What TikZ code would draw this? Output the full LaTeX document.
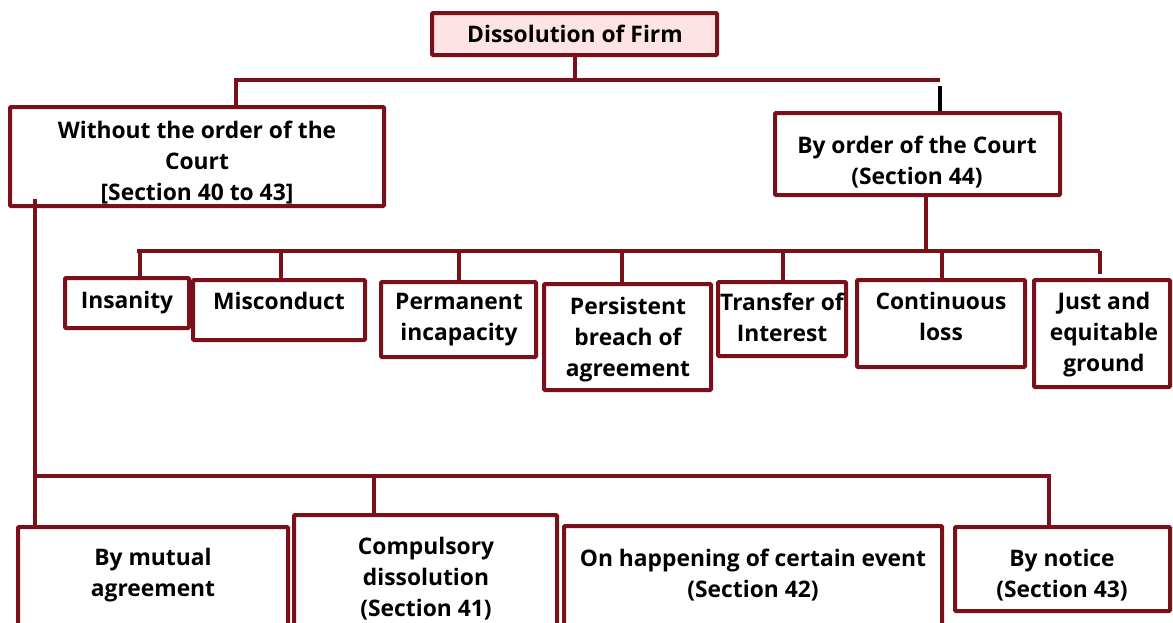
\documentclass[tikz,border=0pt]{standalone}
\usepackage{fontspec}
\setmainfont{Open Sans}
\definecolor{mar}{HTML}{7A1019}
\definecolor{pinkf}{HTML}{FDE3E4}
\tikzset{
  box/.style={draw=mar, line width=4pt, rounded corners=1pt, inner sep=0pt, fill=white},
  lbl/.style={align=center, font=\bfseries\fontsize{22.8}{31}\selectfont, inner sep=0pt, text=black},
  conn/.style={draw=mar, line width=4pt},
}
\begin{document}
\begin{tikzpicture}[x=1pt,y=-1pt]
\useasboundingbox (0,0) rectangle (1173,622);
\clip (0,0) rectangle (1173,622);
% boxes
\node[box, fill=pinkf, minimum width=285pt, minimum height=42pt] (title) at (574.5,34) {};
\node[box, minimum width=374pt, minimum height=99pt] (left) at (197,156.5) {};
\node[box, minimum width=285pt, minimum height=82pt] (right) at (917.5,154) {};
\node[box, minimum width=124pt, minimum height=50pt] (ins) at (127,303) {};
\node[box, minimum width=172pt, minimum height=60pt] (mis) at (279,310) {};
\node[box, minimum width=155pt, minimum height=75pt] (perm) at (458.5,319.5) {};
\node[box, minimum width=167pt, minimum height=106pt] (pers) at (627.5,337) {};
\node[box, minimum width=128pt, minimum height=74pt] (trans) at (782,319) {};
\node[box, minimum width=168pt, minimum height=87pt] (cont) at (941,323.5) {};
\node[box, minimum width=136pt, minimum height=107pt] (just) at (1102,333.5) {};
\node[box, minimum width=270pt, minimum height=133pt] (mut) at (153,593.5) {};
\node[box, minimum width=263pt, minimum height=145pt] (comp) at (425.5,587.5) {};
\node[box, minimum width=378pt, minimum height=134pt] (hap) at (753,593) {};
\node[box, minimum width=215pt, minimum height=84pt] (notc) at (1062.5,569) {};
% junction coordinates
\coordinate (tL) at (236,80);
\coordinate (tR) at (940,80);
\coordinate (mL) at (137,251);
\coordinate (mR) at (1100,251);
\coordinate (rD) at (926,251);
\coordinate (bL) at (35,476);
\coordinate (bR) at (1049,476);
% top level connectors
\draw[conn] (title.south) -- (title.south |- tL);
\draw[conn] (tL |- left.north) -- (tL) -- (tR);
\draw[black, line width=4pt] ([yshift=-6pt]tR) -- (tR |- right.north);
% court branch
\draw[conn] (rD |- right.south) -- (rD);
\draw[conn] (mL) -- (mR);
\draw[conn] ([xshift=13pt]ins.north) -- ([xshift=13pt]ins.north |- mL);
\draw[conn] ([xshift=2pt]mis.north) -- ([xshift=2pt]mis.north |- mL);
\draw[conn] (perm.north) -- (perm.north |- mL);
\draw[conn] ([xshift=-5.5pt]pers.north) -- ([xshift=-5.5pt]pers.north |- mL);
\draw[conn] ([xshift=1pt]trans.north) -- ([xshift=1pt]trans.north |- mL);
\draw[conn] ([xshift=1pt]cont.north) -- ([xshift=1pt]cont.north |- mL);
\draw[conn] ([xshift=-2pt,yshift=4pt]just.north) -- ([xshift=-2pt]just.north |- mR);
% without court branch
\draw[conn] ([yshift=9pt]bL |- left.south) -- (bL |- mut.north);
\draw[conn] (bL) -- (bR) -- (bR |- notc.north);
\draw[conn] ([xshift=-51.5pt]comp.north) -- ([xshift=-51.5pt]comp.north |- bL);
% labels
\node[lbl] (t0) at (575,34) {Dissolution of Firm};
\node[lbl] (t1) at (197,163) {Without the order of the\\Court\\{}[Section 40 to 43]};
\node[lbl] (t2) at (917,162) {By order of the Court\\(Section 44)};
\node[lbl] (t3) at (127,303) {Insanity};
\node[lbl] (t4) at (279,301) {Misconduct};
\node[lbl] (t5) at (459,320) {Permanent\\incapacity};
\node[lbl] (t6) at (628,340) {Persistent\\breach of\\agreement};
\node[lbl] (t7) at (782,317) {Transfer of\\Interest};
\node[lbl] (t8) at (941,316) {Continuous\\loss};
\node[lbl] (t9) at (1104,334.5) {Just and\\equitable\\ground};
\node[lbl] (t10) at (153,575) {By mutual\\agreement};
\node[lbl] (t11) at (426,578.5) {Compulsory\\dissolution\\(Section 41)};
\node[lbl] (t12) at (753,575) {On happening of certain event\\(Section 42)};
\node[lbl] (t13) at (1062,575) {By notice\\(Section 43)};
\end{tikzpicture}
\end{document}
